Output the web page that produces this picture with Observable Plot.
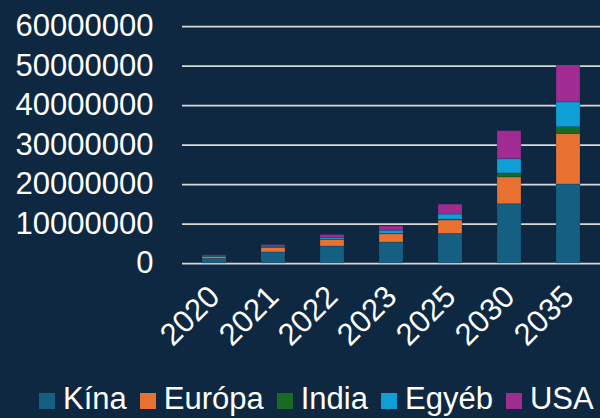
<!DOCTYPE html>
<html>
<head>
<meta charset="utf-8">
<script src="https://cdn.jsdelivr.net/npm/d3@7"></script>
<script src="https://cdn.jsdelivr.net/npm/@observablehq/plot@0.6"></script>
<style>
  html, body { margin: 0; padding: 0; background: #0E2841; }
  body { width: 600px; height: 418px; overflow: hidden; position: relative; font-family: "Liberation Sans", Arial, sans-serif; }
  #legend { position: absolute; left: 39px; top: 382px; display: flex; align-items: center; color: #fff; font-size: 31px; line-height: 34px; white-space: nowrap; }
  #legend .item { display: flex; align-items: center; margin-right: 13px; }
  #legend .sw { width: 16px; height: 16px; margin-right: 8px; margin-top: 3px; }
</style>
</head>
<body>
<div id="chart"></div>
<div id="legend"></div>
<script>
const years = ["2020", "2021", "2022", "2023", "2025", "2030", "2035"];
const seriesNames = ["Kína", "Európa", "India", "Egyéb", "USA"];
const seriesColors = ["#156082", "#E97132", "#196B24", "#0F9ED5", "#A02B93"];
const kina   = [1200000, 2800000, 4300000, 5300000, 7500000, 15000000, 20000000];
const europa = [450000, 1200000, 1700000, 2100000, 3400000, 6800000, 12800000];
const india  = [20000, 50000, 50000, 100000, 200000, 1000000, 1700000];
const egyeb  = [150000, 200000, 450000, 800000, 1300000, 3600000, 6300000];
const usa    = [250000, 400000, 700000, 1100000, 2500000, 7100000, 9300000];
const yTicks = [0, 10000000, 20000000, 30000000, 40000000, 50000000, 60000000];

const seriesValues = [kina, europa, india, egyeb, usa];
const data = [];
seriesNames.forEach((s, si) => {
  years.forEach((yr, i) => data.push({year: yr, series: s, value: seriesValues[si][i]}));
});

const chart = Plot.plot({
  width: 600,
  height: 375,
  marginTop: 26,
  marginBottom: 112,
  marginLeft: 182,
  marginRight: 0,
  style: {background: "#0E2841", color: "#fff", fontFamily: "'Liberation Sans', Arial, sans-serif", fontSize: "31px", overflow: "visible"},
  x: {domain: years, paddingInner: 0.6, paddingOuter: 0.3, label: null},
  y: {domain: [0, 60000000], label: null},
  color: {domain: seriesNames, range: seriesColors},
  marks: [
    Plot.ruleY(yTicks, {stroke: "#D9D9D9", strokeWidth: 1.75}),
    Plot.barY(data, Plot.stackY({order: seriesNames}, {x: "year", y: "value", fill: "series", stroke: "#0E2841", strokeOpacity: 0.3, strokeWidth: 0.75})),
    Plot.axisY(yTicks, {tickSize: 0, tickPadding: 29, tickFormat: d => String(d), fontSize: 31, fill: "#fff", label: null}),
    Plot.axisX({tickSize: 0, tickRotate: -45, tickPadding: 28, fontSize: 31, fill: "#fff", label: null})
  ]
});
document.getElementById("chart").appendChild(chart);

const legend = document.getElementById("legend");
seriesNames.forEach((s, i) => {
  const item = document.createElement("div");
  item.className = "item";
  const sw = document.createElement("span");
  sw.className = "sw";
  sw.style.background = seriesColors[i];
  const t = document.createElement("span");
  t.textContent = s;
  item.appendChild(sw);
  item.appendChild(t);
  legend.appendChild(item);
});
</script>
</body>
</html>
